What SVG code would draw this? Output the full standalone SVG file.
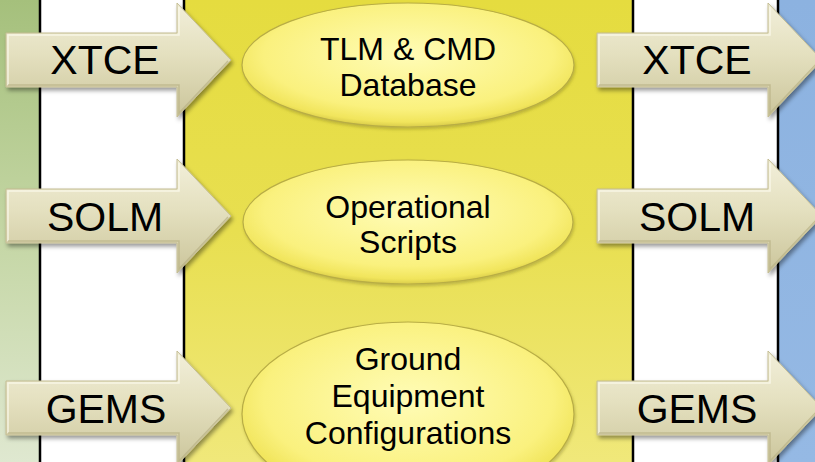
<svg xmlns="http://www.w3.org/2000/svg" width="815" height="462" viewBox="0 0 815 462">
  <style>
    .lbl { font-family: "Liberation Sans", Arial, sans-serif; font-size: 41px; fill: #000; text-anchor: middle; }
    .ell { font-family: "Liberation Sans", Arial, sans-serif; font-size: 32px; fill: #000; text-anchor: middle; }
    .divider { stroke: #000; stroke-width: 2.5; }
    .arrow { fill: url(#arrowFill); stroke: #c4bd93; stroke-width: 1; filter: url(#shadow); }
    .arrowHi { fill: none; stroke: #fbf9ec; stroke-width: 1.5; opacity: 0.8; }
    .arrowLo { fill: none; stroke: #b8b184; stroke-width: 1.5; opacity: 0.7; }
    .bubble { fill: url(#bubbleFill); stroke: #b8ad45; stroke-width: 1.2; filter: url(#softShadow); }
  </style>
  <defs>
    <linearGradient id="greenBand" x1="0" y1="0" x2="0" y2="1">
      <stop offset="0" stop-color="#a5c07c"/>
      <stop offset="0.5" stop-color="#c4d6a4"/>
      <stop offset="1" stop-color="#dfe8d0"/>
    </linearGradient>
    <linearGradient id="yellowBand" x1="0" y1="0" x2="0" y2="1">
      <stop offset="0" stop-color="#e5dc3f"/>
      <stop offset="0.5" stop-color="#e8df50"/>
      <stop offset="1" stop-color="#f0e87a"/>
    </linearGradient>
    <linearGradient id="blueBand" x1="0" y1="0" x2="0" y2="1">
      <stop offset="0" stop-color="#8cb2e0"/>
      <stop offset="1" stop-color="#95b9e4"/>
    </linearGradient>
    <linearGradient id="arrowFill" x1="0" y1="0" x2="0" y2="1">
      <stop offset="0" stop-color="#f2efda"/>
      <stop offset="0.45" stop-color="#e4e0bf"/>
      <stop offset="1" stop-color="#cbc59b"/>
    </linearGradient>
    <radialGradient id="bubbleFill" cx="0.5" cy="0.42" r="0.58">
      <stop offset="0" stop-color="#fffcb6"/>
      <stop offset="0.75" stop-color="#faf17e"/>
      <stop offset="0.93" stop-color="#f1e55c"/>
      <stop offset="1" stop-color="#d9cc4a"/>
    </radialGradient>
    <filter id="shadow" x="-10%" y="-20%" width="125%" height="150%">
      <feDropShadow dx="2" dy="3" stdDeviation="2" flood-color="#000" flood-opacity="0.4"/>
    </filter>
    <filter id="softShadow" x="-10%" y="-20%" width="125%" height="150%">
      <feDropShadow dx="1" dy="2" stdDeviation="1.5" flood-color="#6b6420" flood-opacity="0.35"/>
    </filter>
    <!-- right-pointing block arrow, centred vertically on y=0 -->
    <path id="blockArrow" d="M6,-27 H177 V-57 L231,0 L177,57 V27 H6 Z"/>
    <!-- bevel edges: light along the top, dark along the bottom -->
    <g id="arrowBevel">
      <path class="arrowHi" d="M8,25 V-25 H179 V-53"/>
      <path class="arrowLo" d="M8,25 H179 V53 L228,1"/>
    </g>
  </defs>

  <!-- background bands -->
  <g id="bands">
    <rect x="0" y="0" width="40" height="462" fill="url(#greenBand)"/>
    <rect x="40" y="0" width="144" height="462" fill="#ffffff"/>
    <rect x="184" y="0" width="449" height="462" fill="url(#yellowBand)"/>
    <rect x="633" y="0" width="145" height="462" fill="#ffffff"/>
    <rect x="778" y="0" width="37" height="462" fill="url(#blueBand)"/>
    <line class="divider" x1="40" y1="0" x2="40" y2="462"/>
    <line class="divider" x1="184" y1="0" x2="184" y2="462"/>
    <line class="divider" x1="633" y1="0" x2="633" y2="462"/>
    <line class="divider" x1="778" y1="0" x2="778" y2="462"/>
  </g>

  <!-- input and output arrows -->
  <g id="connectors">
    <g id="in-xtce" transform="translate(0,60)">
      <use href="#blockArrow" class="arrow"/>
      <use href="#arrowBevel"/>
      <text class="lbl" x="105" y="14">XTCE</text>
    </g>
    <g id="in-solm" transform="translate(0,216)">
      <use href="#blockArrow" class="arrow"/>
      <use href="#arrowBevel"/>
      <text class="lbl" x="105" y="15">SOLM</text>
    </g>
    <g id="in-gems" transform="translate(0,408)">
      <use href="#blockArrow" class="arrow"/>
      <use href="#arrowBevel"/>
      <text class="lbl" x="106" y="15">GEMS</text>
    </g>
    <g id="out-xtce" transform="translate(591,60)">
      <use href="#blockArrow" class="arrow"/>
      <use href="#arrowBevel"/>
      <text class="lbl" x="106" y="14">XTCE</text>
    </g>
    <g id="out-solm" transform="translate(591,216)">
      <use href="#blockArrow" class="arrow"/>
      <use href="#arrowBevel"/>
      <text class="lbl" x="106" y="15">SOLM</text>
    </g>
    <g id="out-gems" transform="translate(591,408)">
      <use href="#blockArrow" class="arrow"/>
      <use href="#arrowBevel"/>
      <text class="lbl" x="106" y="15">GEMS</text>
    </g>
  </g>

  <!-- product nodes -->
  <g id="node-database">
    <ellipse class="bubble" cx="408" cy="65" rx="166" ry="62"/>
    <text class="ell" x="408" y="60">TLM &amp; CMD</text>
    <text class="ell" x="408" y="96">Database</text>
  </g>
  <g id="node-scripts">
    <ellipse class="bubble" cx="408" cy="222" rx="165" ry="62"/>
    <text class="ell" x="408" y="218">Operational</text>
    <text class="ell" x="408" y="253">Scripts</text>
  </g>
  <g id="node-ground">
    <ellipse class="bubble" cx="408" cy="414" rx="166" ry="92"/>
    <text class="ell" x="408" y="370">Ground</text>
    <text class="ell" x="408" y="407">Equipment</text>
    <text class="ell" x="408" y="444">Configurations</text>
  </g>
</svg>
